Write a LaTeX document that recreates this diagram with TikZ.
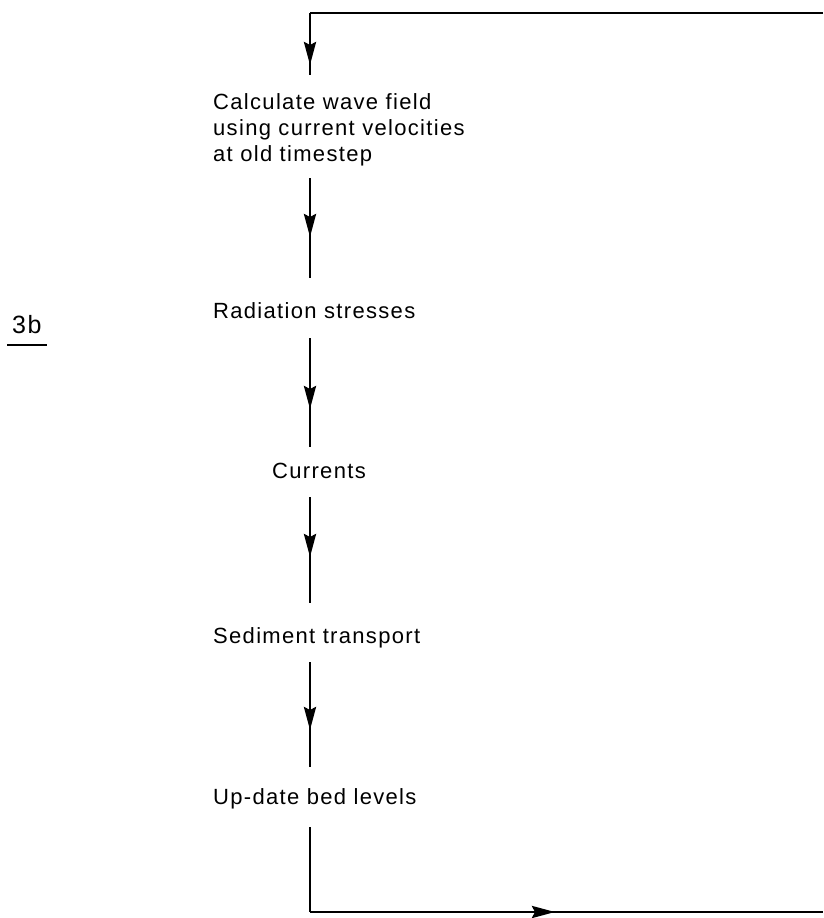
\documentclass[tikz,border=0pt]{standalone}
\usepackage{fontspec}
\setmainfont{Liberation Sans}[LetterSpace=6]
\usetikzlibrary{arrows.meta,decorations.markings}
\tikzset{
  lbl/.style={anchor=base west,inner sep=0pt,font=\fontsize{22}{26}\selectfont},
  flow/.style={line width=2.9pt},
  tip/.style={decoration={markings,mark=at position #1 with {\arrow{Stealth[length=23pt,width=12pt,inset=3pt]}}},postaction={decorate}}
}
\begin{document}
\begin{tikzpicture}[x=1pt,y=-1pt]
\useasboundingbox (0,0) rectangle (823,918);
% text nodes
\node[lbl] (calcA) at (213,109) {Calculate wave field};
\node[lbl] (calcB) at (213,135) {using current velocities};
\node[lbl] (calcC) at (213,161) {at old timestep};
\node[lbl] (rad) at (213,318) {Radiation stresses};
\node[lbl] (cur) at (272,478) {Currents};
\node[lbl] (sed) at (213,643) {Sediment transport};
\node[lbl] (upd) at (213,804) {Up-date bed levels};
\node[lbl,font=\fontsize{25}{30}\selectfont] (lab) at (12,333) {3b};
\draw[line width=1.6pt] (lab.base west) ++(-5,12) coordinate (ul1) -- ++(40,0) coordinate (ul2);
% connector end points
\coordinate (r1) at (823,13);
\coordinate (k1) at (310,13);
\coordinate (e1) at (310,75);
\coordinate (s2) at (310,178);
\coordinate (e2) at (310,278);
\coordinate (s3) at (310,338);
\coordinate (e3) at (310,447);
\coordinate (s4) at (310,497);
\coordinate (e4) at (310,603);
\coordinate (s5) at (310,662);
\coordinate (e5) at (310,767);
\coordinate (s6) at (310,827);
\coordinate (k6) at (310,912);
\coordinate (r6) at (823,912);
% connectors
\draw[flow] (r1) -- (k1);
\draw[flow,tip=52pt] (k1) -- (e1);
\draw[flow,tip=59pt] (s2) -- (e2);
\draw[flow,tip=71pt] (s3) -- (e3);
\draw[flow,tip=60pt] (s4) -- (e4);
\draw[flow,tip=68pt] (s5) -- (e5);
\draw[flow] (s6) -- (k6);
\draw[flow,tip=245pt] (k6) -- (r6);
\end{tikzpicture}
\end{document}
